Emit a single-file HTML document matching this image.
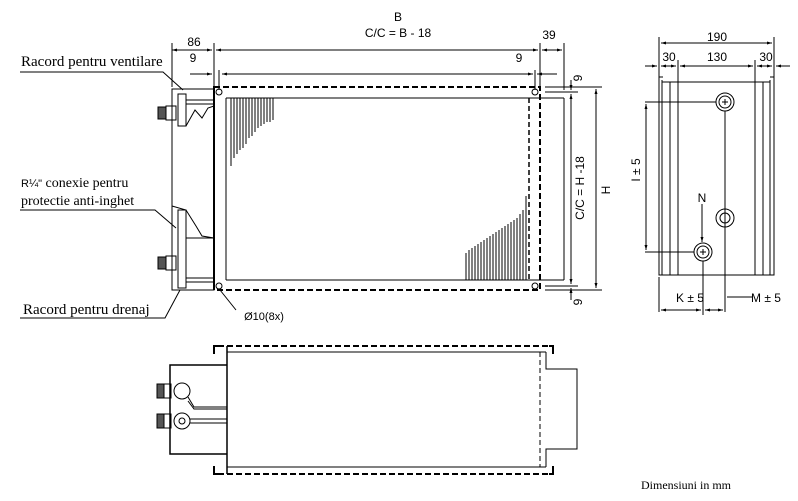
<!DOCTYPE html>
<html><head><style>body{margin:0;background:#fff}svg{display:block}</style></head><body>
<svg width="798" height="501" viewBox="0 0 798 501" xmlns="http://www.w3.org/2000/svg">
<defs><marker id="a" viewBox="0 0 10 10" refX="10" refY="5" markerWidth="7" markerHeight="5" orient="auto-start-reverse"><path d="M0,2 L10,5 L0,8z" fill="#000"/></marker></defs>
<g stroke="#000" fill="none" stroke-width="1">
<rect x="214" y="87" width="326" height="203" stroke-dasharray="6,3" stroke-width="2"/>
<line x1="226" y1="98" x2="564" y2="98"/><line x1="226" y1="280" x2="564" y2="280"/>
<line x1="226" y1="98" x2="226" y2="280"/><line x1="564" y1="98" x2="564" y2="280"/>
<line x1="529" y1="98" x2="529" y2="280" stroke-dasharray="5,3" stroke-width="1.5"/>
<line x1="214" y1="87" x2="214" y2="290" stroke-width="2"/>
<circle cx="219" cy="92" r="3"/><circle cx="219" cy="286" r="3"/><circle cx="535" cy="92" r="3"/><circle cx="535" cy="286" r="3"/>
<g stroke-width="1">
<path d="M231,98v68M234,98v60M237,98v56M240,98v52M243,98v50M246,98v46M249,98v40M252,98v38M255,98v34M258,98v30M261,98v28M264,98v26M267,98v24M270,98v24M273,98v22"/>
<path d="M466,280v-27M469,280v-30M472,280v-32M475,280v-34M478,280v-36M481,280v-38M484,280v-40M487,280v-42M490,280v-44M493,280v-46M496,280v-48M499,280v-50M502,280v-52M505,280v-54M508,280v-56M511,280v-58M514,280v-60M517,280v-62M520,280v-66M523,280v-70M526,280v-84"/>
</g>
<rect x="172" y="89" width="42" height="201"/>
<line x1="172" y1="130" x2="172" y2="206" stroke-dasharray="5,3"/>
<path d="M178,94h8v32h-8z M186,100h28 M186,104h28 M178,210h8v78h-8z M186,238h28 M186,278h28 M186,282h28"/>
<path d="M186,126 L195,110 L202,118 L208,108 L214,106" />
<path d="M172,206 L186,210 L196,226 L202,236 L214,238"/>
<rect x="158" y="107" width="8" height="12" fill="#555"/><rect x="166" y="106" width="10" height="14"/>
<rect x="158" y="257" width="8" height="12" fill="#555"/><rect x="166" y="256" width="10" height="14"/>
<line x1="172" y1="43" x2="172" y2="87"/><line x1="214" y1="43" x2="214" y2="87"/>
<line x1="172" y1="50" x2="212" y2="50" marker-start="url(#a)" marker-end="url(#a)"/>
<line x1="216" y1="50" x2="538" y2="50" marker-start="url(#a)" marker-end="url(#a)"/>
<line x1="540" y1="43" x2="540" y2="87"/><line x1="564" y1="43" x2="564" y2="90"/>
<line x1="542" y1="50" x2="562" y2="50" marker-start="url(#a)" marker-end="url(#a)"/>
<line x1="190" y1="74" x2="212" y2="74" marker-end="url(#a)"/><line x1="557" y1="74" x2="537" y2="74" marker-end="url(#a)"/>
<line x1="219" y1="70" x2="219" y2="90"/><line x1="535" y1="70" x2="535" y2="90"/>
<line x1="222" y1="74" x2="533" y2="74" marker-start="url(#a)" marker-end="url(#a)"/>
<line x1="545" y1="87" x2="602" y2="87"/><line x1="545" y1="290" x2="602" y2="290"/>
<line x1="545" y1="92" x2="578" y2="92"/><line x1="545" y1="286" x2="578" y2="286"/>
<line x1="571" y1="80" x2="571" y2="90" marker-end="url(#a)"/><line x1="571" y1="300" x2="571" y2="288" marker-end="url(#a)"/>
<line x1="571" y1="94" x2="571" y2="284" marker-start="url(#a)" marker-end="url(#a)"/>
<line x1="596" y1="89" x2="596" y2="288" marker-start="url(#a)" marker-end="url(#a)"/>
<path d="M20,72h143l20,18"/><path d="M20,210h135l21,18"/><path d="M20,318h145l15,-28"/><path d="M236,310l-16,-20"/>
<path d="M663,77h-4v198h4M770,77h4v198h-4"/>
<path d="M662,80v195M670,82v193M678,82v193M755,82v193M763,82v193M770,80v195M662,82h108M662,275h108"/>
<circle cx="725" cy="102" r="9"/><circle cx="725" cy="102" r="6"/>
<circle cx="725" cy="218" r="9"/><circle cx="725" cy="218" r="5"/>
<circle cx="703" cy="252" r="9"/><circle cx="703" cy="252" r="6"/>
<path d="M722,102h6M725,99v6M700,252h6M703,249v6"/>
<line x1="725" y1="111" x2="725" y2="312"/><line x1="703" y1="261" x2="703" y2="315"/>
<line x1="645" y1="102" x2="716" y2="102"/><line x1="645" y1="252" x2="694" y2="252"/>
<line x1="646" y1="104" x2="646" y2="250" marker-start="url(#a)" marker-end="url(#a)"/>
<line x1="702" y1="204" x2="702" y2="242" marker-end="url(#a)"/>
<line x1="659" y1="37" x2="659" y2="77"/><line x1="774" y1="37" x2="774" y2="77"/>
<line x1="661" y1="43" x2="772" y2="43" marker-start="url(#a)" marker-end="url(#a)"/>
<line x1="678" y1="60" x2="678" y2="82"/><line x1="755" y1="60" x2="755" y2="82"/>
<line x1="645" y1="66" x2="657" y2="66" marker-end="url(#a)"/><line x1="661" y1="66" x2="676" y2="66" marker-start="url(#a)" marker-end="url(#a)"/>
<line x1="680" y1="66" x2="753" y2="66" marker-start="url(#a)" marker-end="url(#a)"/><line x1="757" y1="66" x2="772" y2="66" marker-start="url(#a)" marker-end="url(#a)"/>
<line x1="790" y1="66" x2="776" y2="66" marker-end="url(#a)"/>
<line x1="659" y1="277" x2="659" y2="312"/>
<line x1="661" y1="310" x2="701" y2="310" marker-start="url(#a)" marker-end="url(#a)"/>
<line x1="705" y1="310" x2="723" y2="310" marker-start="url(#a)" marker-end="url(#a)"/>
<line x1="727" y1="297" x2="752" y2="297"/>
<path d="M218,346h-4v8M549,346h4v8M218,474h-4v-8M549,474h4v-8" stroke-width="2"/>
<line x1="218" y1="346" x2="549" y2="346" stroke-dasharray="6,3" stroke-width="2"/>
<line x1="218" y1="474" x2="549" y2="474" stroke-dasharray="6,3" stroke-width="2"/>
<line x1="227" y1="346" x2="227" y2="474" stroke-width="1.5"/>
<line x1="227" y1="352" x2="546" y2="352"/><line x1="227" y1="467" x2="546" y2="467"/>
<line x1="540" y1="352" x2="540" y2="467" stroke-dasharray="5,3"/>
<path d="M546,352v17h31v80h-31v18"/>
<path d="M227,365h-57v89h57" stroke-width="1.5"/>
<circle cx="182" cy="391" r="8"/><circle cx="182" cy="421" r="8"/><circle cx="182" cy="421" r="3"/>
<path d="M188,397l6,10h33M188,401l6,8h33M190,419h37M190,423h37"/>
<rect x="157" y="384" width="7" height="14" fill="#555"/><rect x="164" y="384" width="7" height="14"/>
<rect x="157" y="414" width="7" height="14" fill="#555"/><rect x="164" y="414" width="7" height="14"/>
</g>
<g font-family="Liberation Serif, serif" font-size="15" fill="#000">
<text x="21" y="66">Racord pentru ventilare</text>
<text x="21" y="187" font-size="14"><tspan font-family="Liberation Sans, sans-serif" font-size="11">R¼"</tspan> conexie pentru</text>
<text x="21" y="205" font-size="14">protectie anti-inghet</text>
<text x="23" y="314">Racord pentru  drenaj</text>
<text x="641" y="489" font-size="12">Dimensiuni in mm</text>
</g>
<g font-family="Liberation Sans, sans-serif" font-size="12" fill="#000" text-anchor="middle">
<text x="398" y="21">B</text><text x="398" y="37">C/C = B - 18</text>
<text x="194" y="46">86</text><text x="193" y="62">9</text><text x="519" y="62">9</text><text x="549" y="39">39</text>
<text x="717" y="41">190</text><text x="669" y="61">30</text><text x="717" y="61">130</text><text x="766" y="61">30</text>
<text x="702" y="202">N</text>
<text x="690" y="302">K ± 5</text><text x="766" y="302">M ± 5</text>
<text x="264" y="320" font-size="11">Ø10(8x)</text>
<text transform="translate(584,188) rotate(-90)">C/C = H -18</text>
<text transform="translate(610,190) rotate(-90)">H</text>
<text transform="translate(640,170) rotate(-90)">I ± 5</text>
<text transform="translate(582,78) rotate(-90)">9</text>
<text transform="translate(582,302) rotate(-90)">9</text>
</g>
</svg>
</body></html>
